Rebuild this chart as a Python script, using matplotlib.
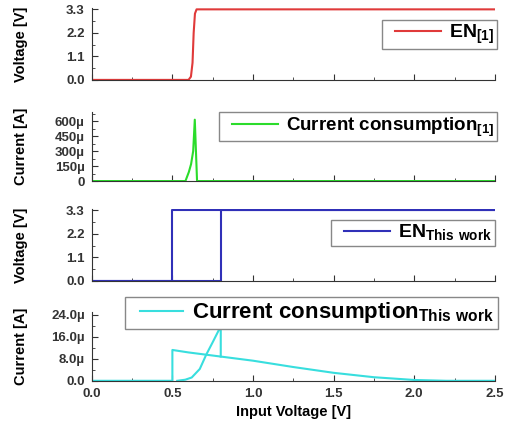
"""Enable signal and current consumption vs input voltage: [1] vs this work."""

import matplotlib

matplotlib.use("Agg")
import matplotlib.pyplot as plt
from matplotlib.legend_handler import HandlerLine2D
from matplotlib.lines import Line2D
from matplotlib.ticker import MultipleLocator

plt.rcParams["font.family"] = ["Liberation Sans", "DejaVu Sans"]
plt.rcParams["font.weight"] = "bold"
plt.rcParams["mathtext.fontset"] = "custom"
plt.rcParams["mathtext.rm"] = "Liberation Sans"
plt.rcParams["mathtext.bf"] = "Liberation Sans:bold"

# EN of [1] (V)
en1_x = [0.0, 0.60, 0.615, 0.625, 0.632, 0.64, 0.65, 2.5]
en1_y = [0.0, 0.0, 0.15, 0.8, 2.2, 3.1, 3.3, 3.3]

# current consumption of [1] (A)
cur1_x = [0.0, 0.581, 0.602, 0.616, 0.629, 0.639, 0.653, 2.5]
cur1_y = [0.0, 0.0, 90e-6, 170e-6, 300e-6, 615e-6, 0.0, 0.0]

# EN of this work, two sweeps (V)
en_up_x = [0.0, 0.5, 0.5, 2.5]
en_up_y = [0.0, 0.0, 3.3, 3.3]
en_dn_x = [0.0, 0.8, 0.8, 2.5]
en_dn_y = [0.0, 0.0, 3.3, 3.3]

# current consumption of this work, two sweeps (A)
cur_a_x = [0.0, 0.5, 0.5, 0.6, 0.8, 1.0, 1.25, 1.5, 1.75, 2.0, 2.2, 2.5]
cur_a_y = [0.0, 0.0, 11.2e-6, 10.3e-6, 8.8e-6, 7.3e-6, 5.0e-6, 2.9e-6,
           1.3e-6, 0.3e-6, 0.0, 0.0]
cur_b_x = [0.53, 0.58, 0.62, 0.67, 0.71, 0.75, 0.8, 0.8]
cur_b_y = [0.0, 0.4e-6, 1.2e-6, 4.3e-6, 9.5e-6, 14.0e-6, 19.8e-6, 8.8e-6]

v_ticks = [0.0, 1.1, 2.2, 3.3]
v_labels = ["0.0", "1.1", "2.2", "3.3"]
i1_ticks = [0, 150e-6, 300e-6, 450e-6, 600e-6]
i1_labels = ["0", "150µ", "300µ", "450µ", "600µ"]
i2_ticks = [0, 8e-6, 16e-6, 24e-6]
i2_labels = ["0.0", "8.0µ", "16.0µ", "24.0µ"]
x_ticks = [0.0, 0.5, 1.0, 1.5, 2.0, 2.5]

RED, GREEN, BLUE, CYAN = "#e03a3a", "#2bdc2b", "#3030b8", "#38dede"

fig = plt.figure(figsize=(5.07, 4.25), dpi=100)
left, width = 0.181, 0.795
axes = [
    fig.add_axes([left, 0.812, width, 0.169]),
    fig.add_axes([left, 0.574, width, 0.162]),
    fig.add_axes([left, 0.339, width, 0.169]),
    fig.add_axes([left, 0.104, width, 0.162]),
]

for ax in axes:
    ax.spines[["top", "right"]].set_visible(False)
    ax.spines[["left", "bottom"]].set_color("#333333")
    ax.set_xlim(0, 2.5)
    ax.set_xticks(x_ticks)
    ax.xaxis.set_minor_locator(MultipleLocator(0.25))
    ax.tick_params(which="both", direction="in", colors="#333333",
                   labelsize=9.5, pad=5)
    ax.tick_params(which="major", length=4)
    ax.tick_params(which="minor", length=2)
    if ax is not axes[-1]:
        ax.tick_params(labelbottom=False)

ax1, ax2, ax3, ax4 = axes

ax1.plot(en1_x, en1_y, color=RED, lw=1.5, label=r"EN$_{\mathbf{[1]}}$")
ax1.set_ylim(0, 3.36)
ax1.set_yticks(v_ticks, v_labels)
ax1.yaxis.set_minor_locator(MultipleLocator(0.55))
ax1.set_ylabel("Voltage [V]", fontsize=10.5, fontweight="bold")

ax2.plot(cur1_x, cur1_y, color=GREEN, lw=1.5,
         label=r"Current consumption$_{\mathbf{[1]}}$")
ax2.set_ylim(0, 690e-6)
ax2.set_yticks(i1_ticks, i1_labels)
ax2.yaxis.set_minor_locator(MultipleLocator(75e-6))
ax2.set_ylabel("Current [A]", fontsize=10.5, fontweight="bold")

ax3.plot(en_up_x, en_up_y, color=BLUE, lw=1.5,
         label=r"EN$_{\mathbf{This\ work}}$")
ax3.plot(en_dn_x, en_dn_y, color=BLUE, lw=1.5)
ax3.set_ylim(0, 3.36)
ax3.set_yticks(v_ticks, v_labels)
ax3.yaxis.set_minor_locator(MultipleLocator(0.55))
ax3.set_ylabel("Voltage [V]", fontsize=10.5, fontweight="bold")

ax4.plot(cur_a_x, cur_a_y, color=CYAN, lw=1.5,
         label=r"Current consumption$_{\mathbf{This\ work}}$")
ax4.plot(cur_b_x, cur_b_y, color=CYAN, lw=1.5)
ax4.set_ylim(0, 25e-6)
ax4.set_yticks(i2_ticks, i2_labels)
ax4.yaxis.set_minor_locator(MultipleLocator(4e-6))
ax4.set_ylabel("Current [A]", fontsize=10.5, fontweight="bold")
ax4.set_xticks(x_ticks, [f"{v:.1f}" for v in x_ticks])
ax4.set_xlabel("Input Voltage [V]", fontsize=10.5, fontweight="bold")

for ax in axes:
    ax.yaxis.set_label_coords(-0.158, 0.5)

legend_specs = [
    (ax1, (0.980, 0.953), 14, 2.9),
    (ax2, (0.980, 0.736), 13.5, 3.0),
    (ax3, (0.976, 0.482), 14, 2.9),
    (ax4, (0.982, 0.301), 16, 2.5),
]
for ax, anchor, size, hlen in legend_specs:
    leg = ax.legend(loc="upper right", bbox_to_anchor=anchor,
                    bbox_transform=fig.transFigure, borderaxespad=0,
                    fancybox=False, framealpha=1, edgecolor="#888888",
                    handlelength=hlen, handletextpad=0.4, borderpad=0.15,
                    handler_map={Line2D: HandlerLine2D(xpad=0.55)},
                    prop={"size": size, "weight": "bold"})
    leg.get_frame().set_linewidth(1.0)

fig.savefig("out.png", dpi=100)
